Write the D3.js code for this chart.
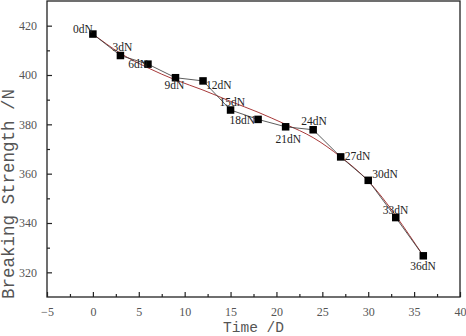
<!DOCTYPE html>
<html>
<head>
<meta charset="utf-8">
<script src="https://cdn.jsdelivr.net/npm/d3@7"></script>
<style>
  html, body { margin: 0; padding: 0; background: #fff; }
  svg { display: block; }
</style>
</head>
<body>
<svg id="chart" width="466" height="336"></svg>
<script>
// Breaking strength measured every 3 days
const days = [0, 3, 6, 9, 12, 15, 18, 21, 24, 27, 30, 33, 36];
const strength = [416.6, 407.9, 404.4, 398.9, 397.6, 385.8, 382.0, 379.0, 377.8, 366.8, 357.3, 342.2, 326.7];
const pointLabels = ["0dN", "3dN", "6dN", "9dN", "12dN", "15dN", "18dN", "21dN", "24dN", "27dN", "30dN", "33dN", "36dN"];
// Fitted trend curve, sampled on the same days
const fitStrength = [416.6, 408.8, 402.9, 398.0, 393.9, 389.3, 384.9, 380.0, 374.6, 366.8, 357.0, 343.0, 326.7];
// Axis ticks
const xTicks = [-5, 0, 5, 10, 15, 20, 25, 30, 35, 40];
const xMinorTicks = [-2.5, 2.5, 7.5, 12.5, 17.5, 22.5, 27.5, 32.5, 37.5];
const yTicks = [320, 340, 360, 380, 400, 420];
const yMinorTicks = [330, 350, 370, 390, 410];

// Label placement around each point: [dx, dy, anchor]
const labelPlace = [
  [0, -1, "end"], [-8, -5, "start"], [0, 4, "end"], [-11, 11, "start"],
  [3, 8, "start"], [-11, -4, "start"], [-3, 5, "end"], [-10, 16, "start"],
  [-12, -5, "start"], [4, 3, "start"], [4, -2, "start"], [-13, -4, "start"],
  [-13, 14, "start"]
];

const svg = d3.select("#chart");
const plotLeft = 47, plotRight = 460, plotTop = 1, plotBottom = 297;

const x = d3.scaleLinear().domain([-5, 40]).range([plotLeft, plotRight]);
const y = d3.scaleLinear().domain([310, 430]).range([plotBottom, plotTop]);

const serif = "'Liberation Serif', 'DejaVu Serif', serif";
const mono = "'Liberation Mono', 'DejaVu Sans Mono', monospace";

// Frame
svg.append("rect")
  .attr("x", plotLeft).attr("y", plotTop)
  .attr("width", plotRight - plotLeft).attr("height", plotBottom - plotTop)
  .attr("fill", "none").attr("stroke", "#222").attr("stroke-width", 1.3);

// Bottom axis with inward ticks
const xAxis = svg.append("g").attr("transform", `translate(0,${plotBottom})`);
xAxis.call(d3.axisBottom(x).tickValues(xTicks).tickSizeInner(-5).tickSizeOuter(0)
  .tickPadding(10).tickFormat(d => d < 0 ? "\u2212" + Math.abs(d) : d));
xAxis.append("g").call(d3.axisBottom(x).tickValues(xMinorTicks).tickSizeInner(-3)
  .tickSizeOuter(0).tickFormat(""));
xAxis.selectAll(".domain").remove();

// Left axis with inward ticks
const yAxis = svg.append("g").attr("transform", `translate(${plotLeft},0)`);
yAxis.call(d3.axisLeft(y).tickValues(yTicks).tickSizeInner(-5).tickSizeOuter(0).tickPadding(10));
yAxis.append("g").call(d3.axisLeft(y).tickValues(yMinorTicks).tickSizeInner(-3)
  .tickSizeOuter(0).tickFormat(""));
yAxis.selectAll(".domain").remove();

svg.selectAll(".tick line").attr("stroke", "#222").attr("stroke-width", 1.2);
svg.selectAll(".tick text")
  .attr("fill", "#555").style("font-family", serif).style("font-size", "12px");

// Axis titles
svg.append("text")
  .attr("x", (plotLeft + plotRight) / 2).attr("y", 332)
  .attr("text-anchor", "middle")
  .style("font-family", mono).style("font-size", "14.5px").attr("fill", "#555")
  .text("Time /D");

svg.append("text")
  .attr("transform", `translate(14,194) rotate(-90)`)
  .attr("text-anchor", "middle")
  .style("font-family", mono).style("font-size", "17.5px").attr("fill", "#555")
  .text("Breaking Strength /N");

// Fitted curve
const fitLine = d3.line()
  .x((d, i) => x(days[i])).y(d => y(d))
  .curve(d3.curveNatural);
svg.append("path")
  .datum(fitStrength)
  .attr("d", fitLine)
  .attr("fill", "none").attr("stroke", "#a83a3a").attr("stroke-width", 1);

// Measured series
const dataLine = d3.line()
  .x((d, i) => x(days[i])).y(d => y(d));
svg.append("path")
  .datum(strength)
  .attr("d", dataLine)
  .attr("fill", "none").attr("stroke", "#333").attr("stroke-width", 0.8);

const sq = 7.5;
svg.append("g").selectAll("rect")
  .data(strength)
  .join("rect")
  .attr("x", (d, i) => x(days[i]) - sq / 2)
  .attr("y", d => y(d) - sq / 2)
  .attr("width", sq).attr("height", sq)
  .attr("fill", "#000");

// Point labels
svg.append("g").selectAll("text")
  .data(strength)
  .join("text")
  .attr("x", (d, i) => x(days[i]) + labelPlace[i][0])
  .attr("y", (d, i) => y(d) + labelPlace[i][1])
  .attr("text-anchor", (d, i) => labelPlace[i][2])
  .style("font-family", serif).style("font-size", "11.5px").attr("fill", "#222")
  .text((d, i) => pointLabels[i]);
</script>
</body>
</html>
